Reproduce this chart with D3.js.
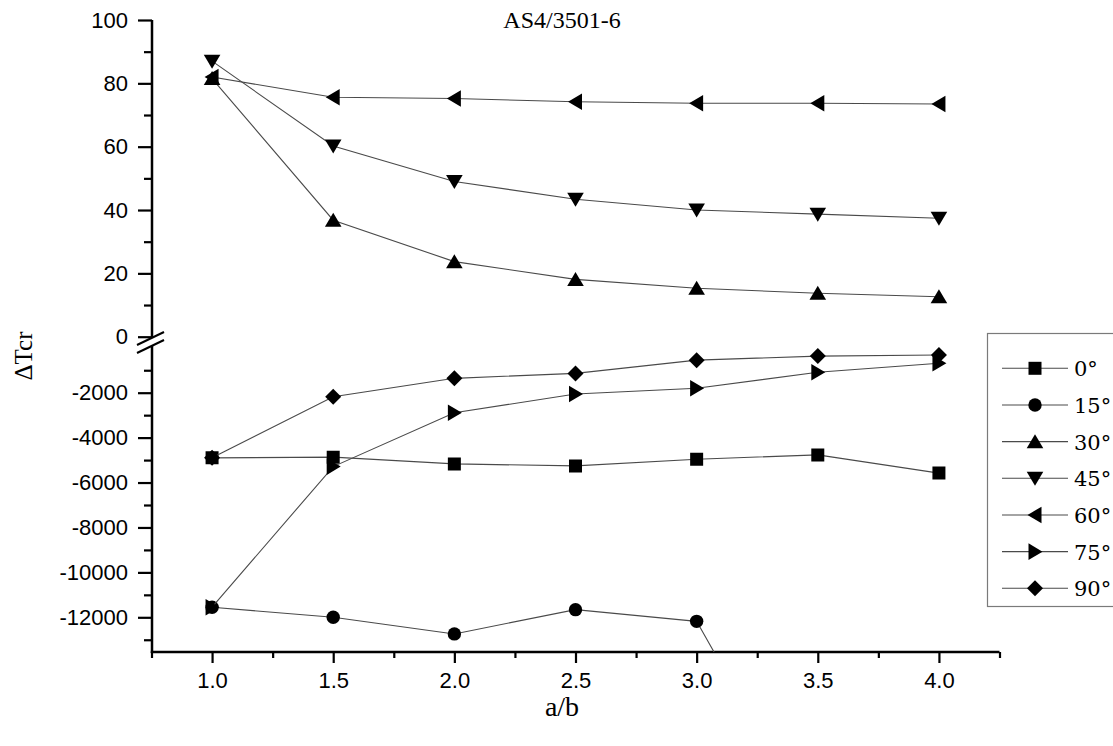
<!DOCTYPE html>
<html>
<head>
<meta charset="utf-8">
<script src="https://cdn.jsdelivr.net/npm/d3@7"></script>
<style>
  html, body { margin: 0; padding: 0; background: #fff; }
  svg { display: block; }
</style>
</head>
<body>
<svg id="chart" width="1113" height="746"></svg>
<script>
// ---------- data ----------
const xValues = [1.0, 1.5, 2.0, 2.5, 3.0, 3.5, 4.0];
const seriesNames = ["0°", "15°", "30°", "45°", "60°", "75°", "90°"];
const s0  = [-4900, -4870, -5170, -5260, -4960, -4770, -5580];
const s15 = [-11550, -12000, -12740, -11660, -12180, -21700, -22000];
const s30 = [81.5, 36.8, 23.7, 18.1, 15.3, 13.7, 12.6];
const s45 = [87.0, 60.2, 49.0, 43.4, 40.0, 38.7, 37.4];
const s60 = [82.0, 75.6, 75.2, 74.2, 73.7, 73.7, 73.5];
const s75 = [-11550, -5290, -2890, -2060, -1800, -1090, -690];
const s90 = [-4900, -2180, -1360, -1140, -550, -370, -320];
const seriesValues = [s0, s15, s30, s45, s60, s75, s90];
const seriesPanel = ["bottom", "bottom", "top", "top", "top", "bottom", "bottom"];
const seriesMarker = ["square", "circle", "triUp", "triDown", "triLeft", "triRight", "diamond"];
const xTicks = [1.0, 1.5, 2.0, 2.5, 3.0, 3.5, 4.0];
const xMinorTicks = [0.75, 1.25, 1.75, 2.25, 2.75, 3.25, 3.75, 4.25];
const yTopTicks = [0, 20, 40, 60, 80, 100];
const yTopMinor = [10, 30, 50, 70, 90];
const yBotTicks = [-12000, -10000, -8000, -6000, -4000, -2000];
const yBotMinor = [-13000, -11000, -9000, -7000, -5000, -3000, -1000];
const titleText = "AS4/3501-6";
const xLabel = "a/b";
const yLabel = "ΔTcr";

// ---------- layout ----------
const svg = d3.select("#chart");
const axisX = 152;
const rightX = 999.5;
const xAxisY = 652;
const topSeg = [20, 338];     // pixel range of top segment
const botSeg = [346, xAxisY]; // pixel range of bottom segment

const x = d3.scaleLinear().domain([0.75, 4.25]).range([151.5, rightX]);
const yTop = d3.scaleLinear().domain([0, 100]).range([336.7, 20]);
const yBot = d3.scaleLinear().domain([-12000, -2000]).range([617.3, 392.7]);

const sansFont = "'Liberation Sans', Arial, sans-serif";
const serifFont = "'Liberation Serif', 'Times New Roman', serif";

// clip paths
const defs = svg.append("defs");
defs.append("clipPath").attr("id", "clipTop").append("rect")
  .attr("x", axisX).attr("y", 0).attr("width", rightX - axisX + 40).attr("height", topSeg[1]);
defs.append("clipPath").attr("id", "clipBot").append("rect")
  .attr("x", axisX).attr("y", botSeg[0]).attr("width", rightX - axisX + 40).attr("height", xAxisY - botSeg[0]);

// ---------- axes ----------
function styleAxis(g) {
  g.select(".domain").remove();
  g.selectAll(".tick line").attr("stroke", "#000").attr("stroke-width", 2.2);
  g.selectAll(".tick text").attr("font-family", sansFont).attr("font-size", 22).attr("fill", "#000");
}

// top y axis
svg.append("g").attr("transform", `translate(${axisX},0)`)
  .call(d3.axisLeft(yTop).tickValues(yTopTicks).tickSize(14).tickPadding(10).tickFormat(d3.format("d")))
  .call(styleAxis);
svg.append("g").attr("transform", `translate(${axisX},0)`)
  .call(d3.axisLeft(yTop).tickValues(yTopMinor).tickSize(8).tickFormat(""))
  .call(styleAxis);
// bottom y axis
svg.append("g").attr("transform", `translate(${axisX},0)`)
  .call(d3.axisLeft(yBot).tickValues(yBotTicks).tickSize(14).tickPadding(10).tickFormat(d => String(d)))
  .call(styleAxis);
svg.append("g").attr("transform", `translate(${axisX},0)`)
  .call(d3.axisLeft(yBot).tickValues(yBotMinor).tickSize(8).tickFormat(""))
  .call(styleAxis);
// x axis
svg.append("g").attr("transform", `translate(0,${xAxisY})`)
  .call(d3.axisBottom(x).tickValues(xTicks).tickSize(11).tickPadding(9).tickFormat(d3.format(".1f")))
  .call(styleAxis);
svg.append("g").attr("transform", `translate(0,${xAxisY})`)
  .call(d3.axisBottom(x).tickValues(xMinorTicks).tickSize(6).tickFormat(""))
  .call(styleAxis);

// axis lines
svg.append("line").attr("x1", axisX).attr("x2", axisX).attr("y1", topSeg[0]).attr("y2", topSeg[1])
  .attr("stroke", "#000").attr("stroke-width", 2.5);
svg.append("line").attr("x1", axisX).attr("x2", axisX).attr("y1", botSeg[0]).attr("y2", xAxisY + 1)
  .attr("stroke", "#000").attr("stroke-width", 2.5);
svg.append("line").attr("x1", axisX - 1.2).attr("x2", rightX).attr("y1", xAxisY).attr("y2", xAxisY)
  .attr("stroke", "#000").attr("stroke-width", 2.5);

// break marks
[[345, 332], [353, 340]].forEach(([y1, y2]) => {
  svg.append("line").attr("x1", axisX - 15).attr("y1", y1).attr("x2", axisX + 12).attr("y2", y2)
    .attr("stroke", "#000").attr("stroke-width", 2);
});

// ---------- markers ----------
function markerPath(type) {
  switch (type) {
    case "square": return "M-6.5,-6.5H6.5V6.5H-6.5Z";
    case "circle": return "M-6.7,0A6.7,6.7 0 1,0 6.7,0A6.7,6.7 0 1,0 -6.7,0Z";
    case "triUp": return "M0,-7.5L8.3,6.5L-8.3,6.5Z";
    case "triDown": return "M0,7.5L8.3,-6.5L-8.3,-6.5Z";
    case "triLeft": return "M-7.5,0L6.5,-8.3L6.5,8.3Z";
    case "triRight": return "M7.5,0L-6.5,-8.3L-6.5,8.3Z";
    case "diamond": return "M0,-8L8,0L0,8L-8,0Z";
  }
}

// ---------- series ----------
seriesValues.forEach((vals, i) => {
  const yS = seriesPanel[i] === "top" ? yTop : yBot;
  const pts = xValues.map((xv, j) => [xv, vals[j]]);
  const line = d3.line().x(d => x(d[0])).y(d => yS(d[1]));
  const g = svg.append("g").attr("clip-path", seriesPanel[i] === "top" ? "url(#clipTop)" : "url(#clipBot)");
  g.append("path").attr("d", line(pts)).attr("fill", "none")
    .attr("stroke", "#4a4a4a").attr("stroke-width", 1.1);
  g.selectAll("path.m").data(pts).enter().append("path").attr("class", "m")
    .attr("d", markerPath(seriesMarker[i]))
    .attr("transform", d => `translate(${x(d[0])},${yS(d[1])})`)
    .attr("fill", "#000");
});

// ---------- legend ----------
const legend = svg.append("g");
legend.append("rect").attr("x", 987.5).attr("y", 333.5).attr("width", 200).attr("height", 273)
  .attr("fill", "#fff").attr("stroke", "#7a7a7a").attr("stroke-width", 1.2);
const legendY = d3.scaleLinear().domain([0, 6]).range([368.3, 588.3]);
seriesNames.forEach((name, i) => {
  const cy = legendY(i);
  legend.append("line").attr("x1", 1002).attr("x2", 1068).attr("y1", cy).attr("y2", cy)
    .attr("stroke", "#4a4a4a").attr("stroke-width", 1.1);
  legend.append("path").attr("d", markerPath(seriesMarker[i]))
    .attr("transform", `translate(1035,${cy})`).attr("fill", "#000");
  legend.append("text").attr("x", 1074).attr("y", cy + 8).text(name)
    .attr("font-family", "'DejaVu Serif', 'Liberation Serif', serif").attr("font-size", 21).attr("fill", "#000");
});

// ---------- titles ----------
svg.append("text").attr("x", 562).attr("y", 28).attr("text-anchor", "middle")
  .attr("font-family", serifFont).attr("font-size", 24).attr("fill", "#000").text(titleText);
svg.append("text").attr("x", 562).attr("y", 716).attr("text-anchor", "middle")
  .attr("font-family", serifFont).attr("font-size", 28).attr("fill", "#000").text(xLabel);
svg.append("text").attr("transform", "translate(32,356) rotate(-90)").attr("text-anchor", "middle")
  .attr("font-family", serifFont).attr("font-size", 25).attr("fill", "#000").text(yLabel);
</script>
</body>
</html>
